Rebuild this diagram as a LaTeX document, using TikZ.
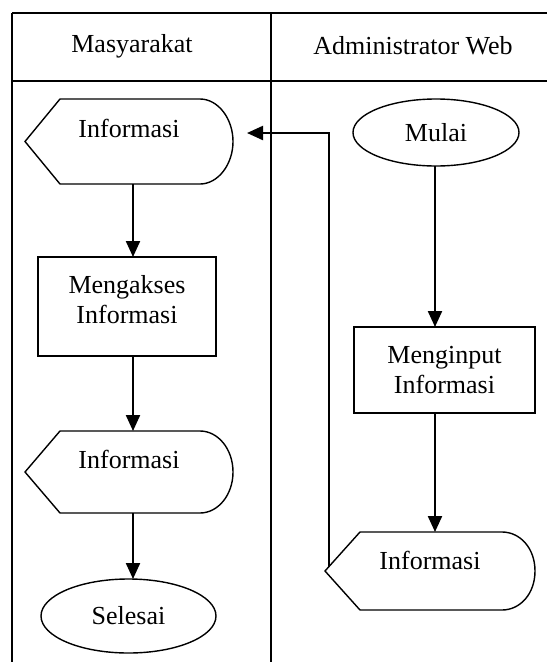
\documentclass[tikz,border=0pt]{standalone}
\usepackage{fontspec}
\setmainfont{Liberation Serif}
\usetikzlibrary{arrows.meta,calc,shapes.geometric}
\tikzset{
  frameline/.style={line width=1.6pt},
  shapeline/.style={draw, line width=1.4pt},
  region/.style={inner sep=0pt, outer sep=0pt},
  procbox/.style={shapeline, rectangle, inner sep=0pt, outer sep=0pt, align=center},
  termbox/.style={shapeline, ellipse, inner sep=0pt, outer sep=0pt},
  lbl/.style={inner sep=0pt, align=center},
  flow/.style={line width=2.2pt, -{Triangle[length=16pt,width=14pt]}},
}
\newcommand\dispshape[1]{%
  \draw[shapeline] (#1.west) -- ($(#1.north west)+(35,0)$) -- ($(#1.north east)+(-33,0)$)
    .. controls ($(#1.north east)+(-15,0)$) and ($(#1.east)+(0,-23)$) .. (#1.east)
    .. controls ($(#1.east)+(0,23)$) and ($(#1.south east)+(-15,0)$) .. ($(#1.south east)+(-33,0)$)
    -- ($(#1.south west)+(35,0)$) -- cycle;}
\begin{document}
\begin{tikzpicture}[x=1pt,y=-1pt,font=\fontsize{26}{30}\selectfont]
\useasboundingbox (0,0) rectangle (547,662);
% frame
\coordinate (ftl) at (12,13);
\coordinate (ftr) at (547,13);
\coordinate (fhl) at (12,81);
\coordinate (fhr) at (547,81);
\coordinate (fbl) at (12,662);
\coordinate (fdt) at (271,13);
\coordinate (fdb) at (271,662);
\draw[frameline] (ftl) -- (ftr);
\draw[frameline] (fhl) -- (fhr);
\draw[frameline] (ftl) -- (fbl);
\draw[frameline] (fdt) -- (fdb);
\node[lbl] (h1) at (132,46) {Masyarakat};
\node[lbl] (h2) at (413,46) {Administrator Web};
% columns for connectors
\coordinate (colL) at (133,0);
\coordinate (colR) at (435,0);
% left lane
\node[region, minimum width=208pt, minimum height=85pt] (d1) at (129,141.5) {};
\dispshape{d1}
\node[lbl] (d1t) at (129,128) {Informasi};
\node[procbox, minimum width=178pt, minimum height=99pt] (mk) at (127,306.5) {};
\node[lbl] (mkt) at (127,300) {Mengakses\\Informasi};
\node[region, minimum width=208pt, minimum height=82pt] (d2) at (129,472) {};
\dispshape{d2}
\node[lbl] (d2t) at (129,459) {Informasi};
\node[termbox, minimum width=175pt, minimum height=74pt] (sel) at (128.5,616) {Selesai};
% right lane
\node[termbox, minimum width=166pt, minimum height=67pt] (mul) at (436,132.5) {Mulai};
\node[procbox, minimum width=181pt, minimum height=86pt] (mi) at (444.5,370) {Menginput\\Informasi};
\node[region, minimum width=210pt, minimum height=78pt] (d3) at (430,571) {};
\dispshape{d3}
\node[lbl] (d3t) at (430,560) {Informasi};
% connectors
\draw[flow] (d1.south -| colL) -- (mk.north -| colL);
\draw[flow] (mk.south -| colL) -- (d2.north -| colL);
\draw[flow] (d2.south -| colL) -- (sel.north -| colL);
\draw[flow] (mul.south -| colR) -- (mi.north -| colR);
\draw[flow] (mi.south -| colR) -- (d3.north -| colR);
\coordinate (fbs) at ($(d3.west)!0.114!($(d3.north west)+(35,0)$)$);
\coordinate (fbe) at ($(d1.east)+(14,-8.5)$);
\draw[flow] (fbs) |- (fbe);
\end{tikzpicture}
\end{document}
